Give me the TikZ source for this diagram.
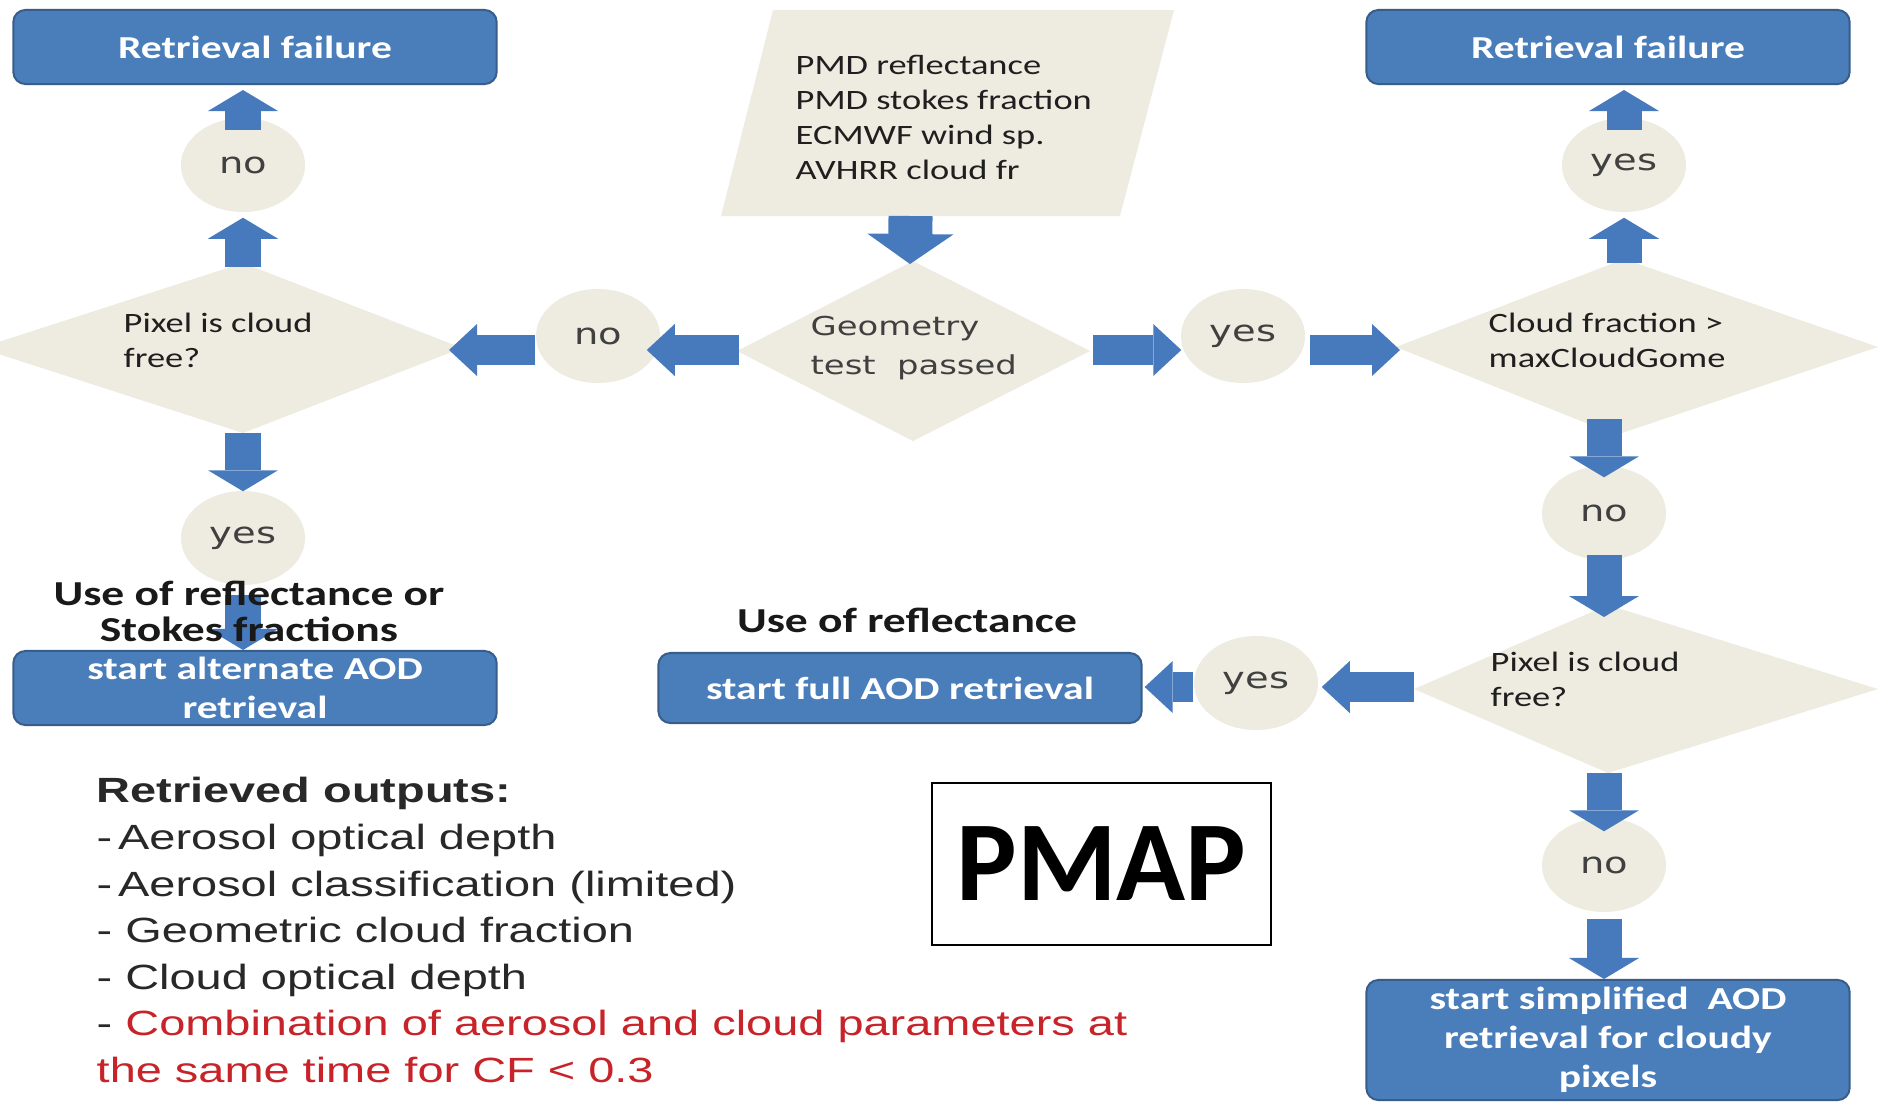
\documentclass[tikz,border=0pt]{standalone}
\usepackage{fontspec}
\usetikzlibrary{arrows.meta,calc,shapes.geometric}
\newfontfamily\bxf[FakeStretch=1.3]{Carlito}
\newfontfamily\lbf[FakeStretch=1.3]{DejaVu Sans}
\newfontfamily\lsf[FakeStretch=1.34]{Liberation Sans}
\newfontfamily\pmf{Carlito}
\definecolor{beige}{RGB}{238,236,225}
\definecolor{boxblue}{RGB}{74,126,187}
\definecolor{boxedge}{RGB}{56,93,138}
\definecolor{arrowblue}{RGB}{70,122,188}
\definecolor{lblgray}{RGB}{64,64,64}
\definecolor{outred}{RGB}{200,35,40}
\definecolor{lstgray}{RGB}{40,40,40}
\tikzset{
  boxnode/.style={rectangle, rounded corners=0.12cm, fill=boxblue, draw=boxedge, line width=0.02cm,
    text=white, font=\bxf\bfseries\fontsize{9.1}{11.1}\selectfont, align=center, inner sep=0pt,
    minimum width=4.83cm, minimum height=0.74cm},
  oval/.style={ellipse, fill=beige, minimum width=1.24cm, minimum height=0.94cm, inner sep=0pt,
    text=lblgray, font=\lbf\fontsize{8.4}{11.1}\selectfont},
  varr/.style={draw=arrowblue, line width=0.35cm, -{Triangle[width=0.70cm,length=0.21cm,line width=0pt]}},
  harr/.style={draw=arrowblue, line width=0.30cm, -{Triangle[width=0.52cm,length=0.28cm,line width=0pt]}},
  bigarr/.style={draw=arrowblue, line width=0.44cm, -{Triangle[width=0.86cm,length=0.30cm,line width=0pt]}},
  dtext/.style={font=\bxf\fontsize{7.97}{9.96}\selectfont, align=left, inner sep=0pt, anchor=west, text=black!88},
  gtext/.style={font=\lbf\fontsize{7.4}{11.1}\selectfont, align=left, inner sep=0pt, anchor=west, text=lblgray},
  usef/.style={font=\bxf\bfseries\fontsize{9.96}{10.24}\selectfont, align=center, inner sep=0pt, text=black!90},
  lst/.style={font=\lsf\fontsize{9.96}{13.23}\selectfont, align=left, inner sep=0pt, anchor=west, text=lstgray}
}
\begin{document}
\begin{tikzpicture}[x=0.01cm,y=-0.01cm]
\useasboundingbox (0,0) rectangle (1879,1102);
\fill[white] (0,0) rectangle (1879,1102);
\clip (0,0) rectangle (1879,1102);

% shapes
\coordinate (p1) at (773,10); \coordinate (p2) at (1174,10);
\coordinate (p3) at (1120,216); \coordinate (p4) at (721,216);
\fill[beige] (p1) -- (p2) -- (p3) -- (p4) -- cycle;

\coordinate (d1l) at (-20,348); \coordinate (d1t) at (243,263);
\coordinate (d1r) at (462,348); \coordinate (d1b) at (243,433);
\fill[beige] (d1l) -- (d1t) -- (d1r) -- (d1b) -- cycle;

\coordinate (gl) at (737,351); \coordinate (gt) at (913,261);
\coordinate (gr) at (1090,351); \coordinate (gb) at (913,441);
\fill[beige] (gl) -- (gt) -- (gr) -- (gb) -- cycle;

\coordinate (cfl) at (1396,347); \coordinate (cft) at (1624,259);
\coordinate (cfr) at (1878,347); \coordinate (cfb) at (1616,435);
\fill[beige] (cfl) -- (cft) -- (cfr) -- (cfb) -- cycle;

\coordinate (d2l) at (1414,689); \coordinate (d2t) at (1608,605);
\coordinate (d2r) at (1878,689); \coordinate (d2b) at (1608,773);
\fill[beige] (d2l) -- (d2t) -- (d2r) -- (d2b) -- cycle;

% ovals
\node[oval] (n1) at (243,165) {no};
\node[oval] (y4) at (243,538) {yes};
\node[oval] (n2) at (598,336) {no};
\node[oval] (y1) at (1243,336) {yes};
\node[oval] (y2) at (1624,165) {yes};
\node[oval] (n3) at (1604,513) {no};
\node[oval] (y3) at (1256,683) {yes};
\node[oval] (n4) at (1604,865) {no};

% boxes
\node[boxnode] (rf1) at (255,47) {Retrieval failure};
\node[boxnode] (rf2) at (1608,47) {Retrieval failure};
\node[boxnode] (alt) at (255,688) {start alternate AOD\\retrieval};
\node[boxnode, minimum height=0.70cm] (full) at (900,688) {start full AOD retrieval};
\node[boxnode, minimum height=1.20cm] (simp) at (1608,1040) {start simplified\ \ AOD\\retrieval for cloudy\\pixels};

\coordinate (rf1b) at (n1.north |- rf1.south);
\coordinate (rf2b) at (y2.north |- rf2.south);
\coordinate (altt) at (y4.south |- alt.north);
\coordinate (simpt) at (n4.south |- simp.north);
\coordinate (cfs) at (n3.north |- cfb);
\coordinate (d2tt) at (n3.south |- d2t);
\coordinate (d2bb) at (n4.north |- d2b);

% arrows
\draw[varr] ($(d1t)+(0,4)$) -- ($(n1.south)+(0,5)$);
\draw[varr] ($(n1.north)+(0,13)$) -- ($(rf1b)+(0,5)$);
\draw[varr] (d1b) -- ($(y4.north)+(0,1)$);
\draw[varr] ($(y4.south)+(0,9)$) -- (altt);
\draw[harr] ($(n2.west)+(0,14)$) -- ($(d1r)+(-13,2)$);
\draw[harr] ($(gl)+(2,-1)$) -- ($(n2.east)+(-14,14)$);
\draw[harr] ($(gr)+(3,-1)$) -- ($(y1.west)+(1,14)$);
\draw[harr] ($(y1.east)+(4,14)$) -- ($(cfl)+(4,3)$);
\draw[bigarr] ($(p4)!0.475!(p3)$) -- ($(gt)+(-3,3)$);
\draw[varr] ($(cft)+(0,4)$) -- ($(y2.south)+(0,5)$);
\draw[varr] ($(y2.north)+(0,13)$) -- ($(rf2b)+(0,5)$);
\draw[varr] ($(cfs)+(0,-16)$) -- ($(n3.north)+(0,12)$);
\draw[varr] ($(n3.south)+(0,-6)$) -- ($(d2tt)+(0,12)$);
\draw[harr] ($(d2l)+(0,-2)$) -- ($(y3.east)+(3,4)$);
\draw[harr] ($(y3.west)+(0,4)$) -- ($(full.east)+(2,-1)$);
\draw[varr] (d2bb) -- ($(n4.north)+(0,14)$);
\draw[varr] ($(n4.south)+(0,6)$) -- (simpt);

% texts
\node[dtext] (ptxt) at (795,117) {PMD reflectance\\PMD stokes fraction\\ECMWF wind sp.\\AVHRR cloud fr};
\node[dtext] (d1txt) at (123,340) {Pixel is cloud\\free?};
\node[dtext] (cftxt) at (1488,340) {Cloud fraction >\\maxCloudGome};
\node[dtext] (d2txt) at (1490,679) {Pixel is cloud\\free?};
\node[gtext] (gtxt) at (810,348) {Geometry\\test\ \ passed};

\node[usef] (use1) at (249,611) {Use of reflectance or\\Stokes fractions};
\node[usef] (use2) at (907,620) {Use of reflectance};

\node[lst] (outs) at (96,930) {\textbf{Retrieved outputs:}\\
-\,Aerosol optical depth\\
-\,Aerosol classification (limited)\\
- Geometric cloud fraction\\
- Cloud optical depth\\
- {\color{outred}Combination of aerosol and cloud parameters at}\\
{\color{outred}the same time for CF < 0.3}};

\node[draw=black, line width=0.02cm, minimum width=3.39cm, minimum height=1.62cm, inner sep=0pt,
  font=\pmf\bfseries\fontsize{32.4}{36}\selectfont] (pmap) at (1101.5,864) {PMAP};
\end{tikzpicture}
\end{document}
